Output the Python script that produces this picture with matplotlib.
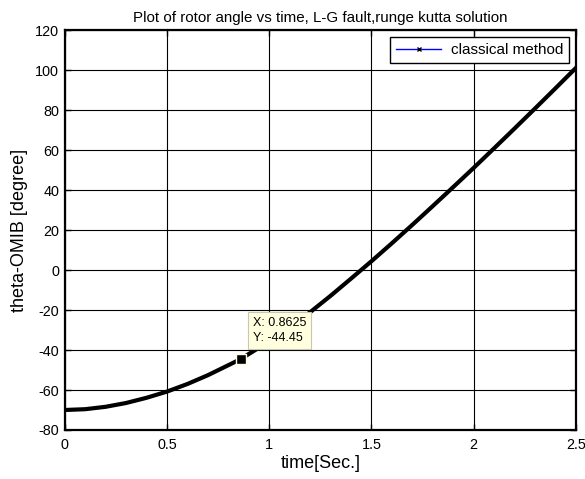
import numpy as np
import matplotlib.pyplot as plt
from matplotlib.lines import Line2D

plt.rcParams['font.family'] = ['Liberation Sans', 'DejaVu Sans']
plt.rcParams['axes.unicode_minus'] = False

# rotor angle (deg) vs time (s), classical model
t = [0.0, 0.1, 0.2, 0.3, 0.4, 0.5, 0.6, 0.7, 0.8, 0.8625, 0.9, 1.0, 1.1, 1.2,
     1.3, 1.4, 1.5, 1.6, 1.7, 1.8, 1.9, 2.0, 2.1, 2.2, 2.3, 2.4, 2.5]
theta = [-70.0, -69.6, -68.4, -66.5, -63.9, -60.8, -57.0, -52.6, -47.6, -44.45,
         -42.0, -35.7, -28.7, -21.1, -12.9, -4.3, 4.4, 13.4, 22.6, 32.0, 41.5,
         51.1, 60.9, 70.8, 80.8, 90.9, 101.1]

tip_x, tip_y = 0.8625, -44.45

xticks = [0, 0.5, 1, 1.5, 2, 2.5]
xticklabels = ['0', '0.5', '1', '1.5', '2', '2.5']
yticks = list(range(-80, 121, 20))

fig = plt.figure(figsize=(5.85, 4.79), dpi=100)
ax = fig.add_axes([0.1106, 0.1023, 0.874, 0.835])

ax.plot(t, theta, color='black', lw=3.0, solid_joinstyle='round', zorder=3)

ax.set_xlim(0, 2.5)
ax.set_ylim(-80, 120)
ax.set_xticks(xticks)
ax.set_xticklabels(xticklabels)
ax.set_yticks(yticks)
ax.grid(True, color='black', lw=0.8, ls='-')
ax.set_axisbelow(True)
ax.tick_params(direction='in', top=True, right=True, labelsize=10.4,
               length=4, width=1, pad=4)
ax.tick_params(axis='x', pad=6)
for s in ax.spines.values():
    s.set_linewidth(1.6)

ax.set_title('Plot of rotor angle vs time, L-G fault,runge kutta solution',
             fontsize=10.9, pad=6)
ax.set_xlabel('time[Sec.]', fontsize=13, labelpad=2)
ax.set_ylabel('theta-OMIB [degree]', fontsize=13, labelpad=5)

# legend: blue line with black x marker
handle = Line2D([0], [0], color='blue', lw=1, marker='x', markersize=2.5,
                markeredgecolor='black')
leg = ax.legend([handle], ['classical method'], loc='upper right', fontsize=11,
                fancybox=False, framealpha=1, edgecolor='black',
                borderaxespad=0.45, handlelength=3.0, handletextpad=0.6,
                borderpad=0.4)
leg.get_frame().set_linewidth(1.0)

# data tip
ax.plot([tip_x], [tip_y], marker='s', markersize=6.5, color='black',
        markeredgecolor='#ffffe0', markeredgewidth=1, zorder=5)
ax.annotate(f'X: {tip_x}\nY: {tip_y}', xy=(tip_x, tip_y), xytext=(8.6, 10.8),
            textcoords='offset points', fontsize=9, va='bottom', ha='left',
            linespacing=1.35, zorder=6,
            bbox=dict(boxstyle='square,pad=0.4', fc='#ffffe0', ec='#c8c8b0', lw=0.8))

fig.savefig('out.png', dpi=100)
